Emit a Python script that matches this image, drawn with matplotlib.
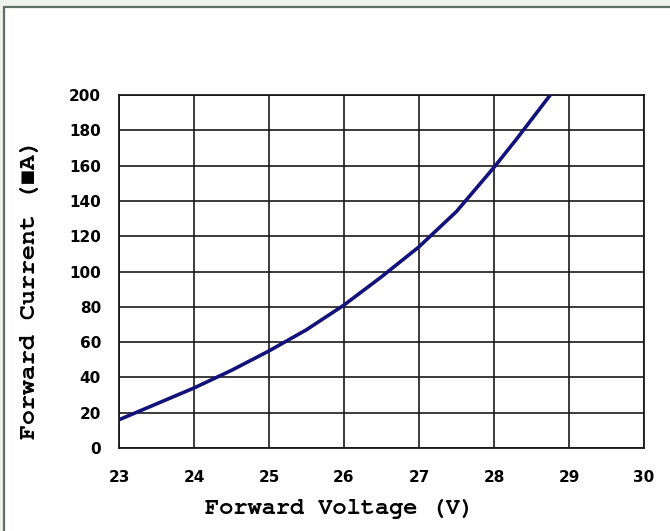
import numpy as np
import matplotlib.pyplot as plt
from matplotlib.patches import Rectangle

# forward voltage (V) vs forward current
voltage = [23.0, 23.5, 24.0, 24.5, 25.0, 25.5, 26.0, 26.5, 27.0, 27.5, 28.0, 28.3, 28.75]
current = [16, 25, 34, 44, 55, 67, 81, 97, 114, 134, 159, 175, 200]

x_ticks = [23, 24, 25, 26, 27, 28, 29, 30]
y_ticks = [0, 20, 40, 60, 80, 100, 120, 140, 160, 180, 200]

fig = plt.figure(figsize=(6.7, 5.31), dpi=100)
fig.patch.set_facecolor('#eef2ee')
# white panel with a dark frame, cut off at right and bottom
fig.patches.append(Rectangle((4/670, -0.05), 1.05, 1 - 7/531 + 0.05, transform=fig.transFigure,
                             facecolor='white', edgecolor='#5f6f63', linewidth=1.6, zorder=-1))

ax = fig.add_axes([119/670, 1 - 448/531, (644 - 119)/670, (448 - 95)/531])
ax.set_zorder(2)
ax.plot(voltage, current, color='#12127a', linewidth=2.6, solid_capstyle='butt', zorder=3)

ax.set_xlim(23, 30)
ax.set_ylim(0, 200)
ax.set_xticks(x_ticks)
ax.set_yticks(y_ticks)
ax.grid(True, color='#1a1a1a', linewidth=1.2)
for s in ax.spines.values():
    s.set_color('#1a1a1a')
    s.set_linewidth(1.3)
ax.tick_params(length=0, labelsize=11)
ax.tick_params(axis='x', pad=16)
ax.tick_params(axis='y', pad=13)
for lab in ax.get_xticklabels() + ax.get_yticklabels():
    lab.set_fontweight('bold')
    lab.set_family('DejaVu Sans')

lab_font = dict(family=['FreeMono', 'DejaVu Sans Mono'], fontweight='bold')
ax.set_xlabel('Forward Voltage (V)', fontsize=17, **lab_font)
ax.set_ylabel('Forward Current (\u25a0A)', fontsize=18, **lab_font)
ax.xaxis.set_label_coords(0.42, -0.145)
ax.yaxis.set_label_coords(-0.15, 0.45)

fig.savefig('out.png', dpi=100, facecolor=fig.get_facecolor())
